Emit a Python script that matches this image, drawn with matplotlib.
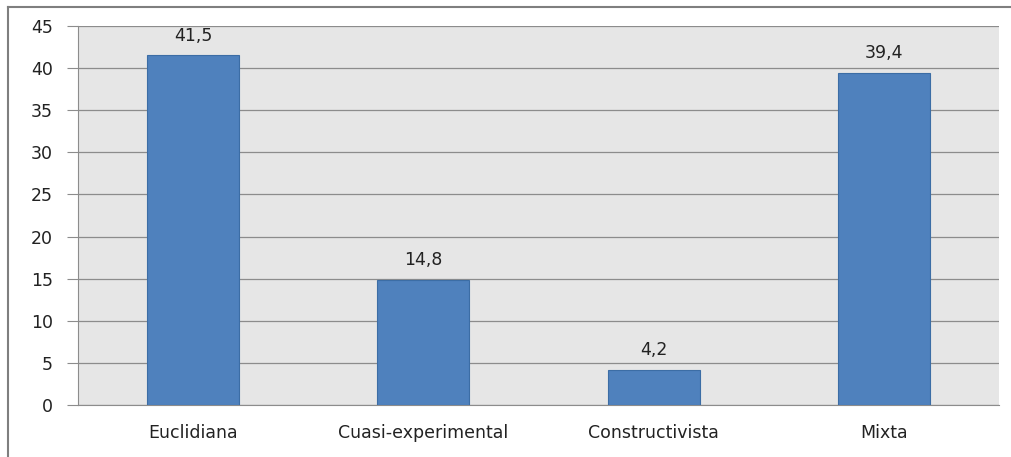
import matplotlib.pyplot as plt
from matplotlib.lines import Line2D

categorias = ["Euclidiana", "Cuasi-experimental", "Constructivista", "Mixta"]
valores = [41.5, 14.8, 4.2, 39.4]
etiquetas = ["41,5", "14,8", "4,2", "39,4"]
yticks = [0, 5, 10, 15, 20, 25, 30, 35, 40, 45]

plt.rcParams['font.family'] = ['DejaVu Sans']

fig = plt.figure(figsize=(10.11, 4.57), dpi=100)
ax = fig.add_axes([78 / 1011, 52 / 457, 921 / 1011, 379 / 457])
ax.set_facecolor("#e6e6e6")

x = range(len(categorias))
ax.bar(x, valores, width=0.4, color="#4f81bd", edgecolor="#3c6da5", linewidth=0.8, zorder=3)

for i, v in enumerate(valores):
    ax.text(i, v + 1.3, etiquetas[i], ha="center", va="bottom", fontsize=12.5, color="#222222")

ax.set_xlim(-0.5, 3.5)
ax.set_ylim(0, 45)
ax.set_yticks(yticks)
ax.set_yticklabels([str(t) for t in yticks], fontsize=12.5, color="#222222")
ax.set_xticks(list(x))
ax.set_xticklabels(categorias, fontsize=12.5, color="#222222")
ax.tick_params(axis="x", length=0, pad=14)
ax.tick_params(axis="y", length=8, color="#8c8c8c", pad=10)
ax.grid(axis="y", color="#8c8c8c", linewidth=0.9, zorder=1)

for s in ["top", "right"]:
    ax.spines[s].set_visible(False)
ax.spines["left"].set_color("#8c8c8c")
ax.spines["bottom"].set_color("#8c8c8c")

# marco exterior (solo arriba e izquierda)
fig.add_artist(Line2D([8 / 1011, 1], [1 - 7 / 457, 1 - 7 / 457], color="#7f7f7f", linewidth=1.5))
fig.add_artist(Line2D([8 / 1011, 8 / 1011], [0, 1 - 7 / 457], color="#7f7f7f", linewidth=1.5))

fig.savefig("out.png", dpi=100)
